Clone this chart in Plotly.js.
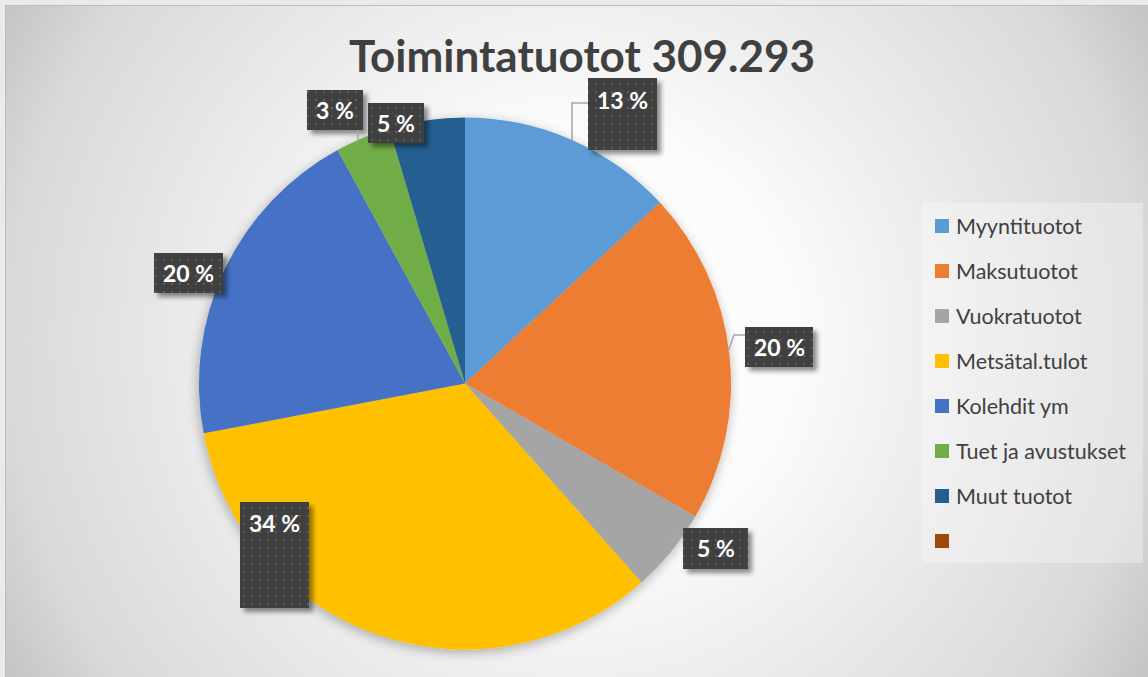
<!DOCTYPE html>
<html>
<head>
<meta charset="utf-8">
<script src="https://cdn.plot.ly/plotly-3.0.1.min.js"></script>
<style>
  html, body { margin: 0; padding: 0; }
  body { width: 1148px; height: 677px; background: #eaeaea; position: relative; overflow: hidden; }
  #bg { position: absolute; left: 5px; top: 5px; width: 1143px; height: 672px; box-sizing: border-box;
        border-left: 1px solid #bdbdbd; border-top: 1px solid #bdbdbd;
        background: radial-gradient(circle farthest-corner at 50% 50%, #ffffff 0%, #fbfbfb 33%, #efefef 51%, #d9d9d9 86%, #c4c4c4 100%); }
  #chart { position: absolute; left: 0; top: 0; width: 1148px; height: 677px; }
</style>
</head>
<body>
<svg width="0" height="0" style="position:absolute">
  <defs>
    <pattern id="dots" x="0" y="0" width="8" height="8" patternUnits="userSpaceOnUse">
      <rect x="0" y="0" width="8" height="8" fill="#404040"></rect>
      <rect x="3" y="3" width="2" height="2" fill="#5e5e5e"></rect>
    </pattern>
    <filter id="boxshadow" x="-20%" y="-20%" width="150%" height="150%">
      <feGaussianBlur in="SourceAlpha" stdDeviation="2.5"></feGaussianBlur>
      <feOffset dx="4" dy="4" result="ob"></feOffset>
      <feComponentTransfer><feFuncA type="linear" slope="0.45"></feFuncA></feComponentTransfer>
      <feMerge><feMergeNode></feMergeNode><feMergeNode in="SourceGraphic"></feMergeNode></feMerge>
    </filter>
    <filter id="pieshadow" x="-10%" y="-10%" width="120%" height="120%">
      <feGaussianBlur in="SourceAlpha" stdDeviation="6"></feGaussianBlur>
      <feOffset dx="-1" dy="3" result="ob"></feOffset>
      <feComponentTransfer><feFuncA type="linear" slope="0.3"></feFuncA></feComponentTransfer>
      <feMerge><feMergeNode></feMergeNode><feMergeNode in="SourceGraphic"></feMergeNode></feMerge>
    </filter>
  </defs>
</svg>
<div id="bg"></div>
<div id="chart"></div>
<script>
// ---- data ----
const chartTitle = 'Toimintatuotot 309.293';
const categories = ['Myyntituotot', 'Maksutuotot', 'Vuokratuotot', 'Metsätal.tulot', 'Kolehdit ym', 'Tuet ja avustukset', 'Muut tuotot', ''];
const values = [40500, 62600, 15800, 103800, 62000, 10400, 14193, 0];
const colors = ['#5B9BD5', '#ED7D31', '#A5A5A5', '#FFC000', '#4472C4', '#70AD47', '#255E91', '#9E480E'];

// ---- layout helpers (pixel -> paper) ----
const W = 1148, H = 677;
const px = x => x / W;
const py = y => 1 - y / H;

// data-label boxes (pixel rectangles) and text centres, one per slice
const labelBoxes = [
  {x0: 588, y0: 78,  x1: 657, y1: 150, ty: 100},
  {x0: 745, y0: 327, x1: 813, y1: 367, ty: 347},
  {x0: 683, y0: 528, x1: 748, y1: 569, ty: 548},
  {x0: 240, y0: 502, x1: 309, y1: 608, ty: 523},
  {x0: 154, y0: 253, x1: 223, y1: 293, ty: 273},
  {x0: 307, y0: 90,  x1: 363, y1: 130, ty: 110},
  {x0: 368, y0: 103, x1: 424, y1: 143, ty: 123},
  null
];
const leaderLines = [
  [[572, 140], [572, 103], [588, 103]],
  [[728, 352], [734, 335], [745, 335]],
  [[671, 550], [671, 536], [683, 536]],
  null, null,
  [[358, 140], [358, 130]],
  null, null
];

const total = values.reduce((a, b) => a + b, 0);
const pctText = values.map(v => Math.round(v / total * 100) + ' %');

const shapes = [];
const annotations = [];
const boxShapeIdx = [];

labelBoxes.forEach((b, i) => {
  if (!b) return;
  boxShapeIdx.push(shapes.length);
  shapes.push({type: 'rect', xref: 'paper', yref: 'paper', layer: 'above',
    x0: px(b.x0), x1: px(b.x1), y0: py(b.y1), y1: py(b.y0),
    fillcolor: '#404040', line: {width: 0}});
  annotations.push({xref: 'paper', yref: 'paper', x: px((b.x0 + b.x1) / 2), y: py(b.ty),
    xanchor: 'center', yanchor: 'middle', showarrow: false, text: '<b>' + pctText[i] + '</b>',
    font: {family: 'Lato, "Open Sans", sans-serif', size: 23, color: '#ffffff'}});
});
leaderLines.forEach(l => {
  if (!l) return;
  const path = l.map((p, k) => (k ? 'L' : 'M') + px(p[0]) + ',' + py(p[1])).join(' ');
  shapes.push({type: 'path', xref: 'paper', yref: 'paper', layer: 'above', path: path,
    line: {color: '#a6a6a6', width: 1.5}});
});

// legend box
shapes.push({type: 'rect', xref: 'paper', yref: 'paper', layer: 'below',
  x0: px(922), x1: px(1143), y0: py(563), y1: py(203),
  fillcolor: 'rgba(255,255,255,0.3)', line: {width: 0}});
// legend items
const legendTop = 226, legendStep = 45;
categories.forEach((c, i) => {
  const yc = legendTop + i * legendStep;
  shapes.push({type: 'rect', xref: 'paper', yref: 'paper', layer: 'above',
    x0: px(935), x1: px(949), y0: py(yc + 7), y1: py(yc - 7),
    fillcolor: colors[i], line: {width: 0}});
  if (c) annotations.push({xref: 'paper', yref: 'paper', x: px(954), y: py(yc),
    xanchor: 'left', yanchor: 'middle', showarrow: false, text: c,
    font: {family: 'Lato, "Open Sans", sans-serif', size: 21.5, color: '#404040'}});
});

const trace = {
  type: 'pie',
  labels: categories,
  values: values,
  marker: {colors: colors, line: {width: 0}},
  sort: false,
  direction: 'clockwise',
  rotation: 0,
  textinfo: 'none',
  hoverinfo: 'label+percent',
  domain: {x: [px(199), px(731)], y: [py(650), py(117)]}
};

const layout = {
  width: W, height: H,
  margin: {l: 0, r: 0, t: 0, b: 0},
  paper_bgcolor: 'rgba(0,0,0,0)',
  plot_bgcolor: 'rgba(0,0,0,0)',
  showlegend: false,
  title: {text: '<b>' + chartTitle + '</b>', x: px(582), xanchor: 'center', xref: 'paper',
          y: py(57), yanchor: 'middle', yref: 'container',
          font: {family: 'Lato, "Open Sans", sans-serif', size: 44, color: '#404040'}},
  shapes: shapes,
  annotations: annotations
};

Plotly.newPlot('chart', [trace], layout, {displayModeBar: false, staticPlot: true}).then(gd => {
  boxShapeIdx.forEach(i => {
    gd.querySelectorAll('.shapelayer path[data-index="' + i + '"]').forEach(p => {
      p.style.fill = 'url(#dots)';
      p.style.fillOpacity = '1';
      p.setAttribute('filter', 'url(#boxshadow)');
    });
  });
  gd.querySelectorAll('.pielayer .trace').forEach(t => t.setAttribute('filter', 'url(#pieshadow)'));
});
</script>
</body>
</html>
